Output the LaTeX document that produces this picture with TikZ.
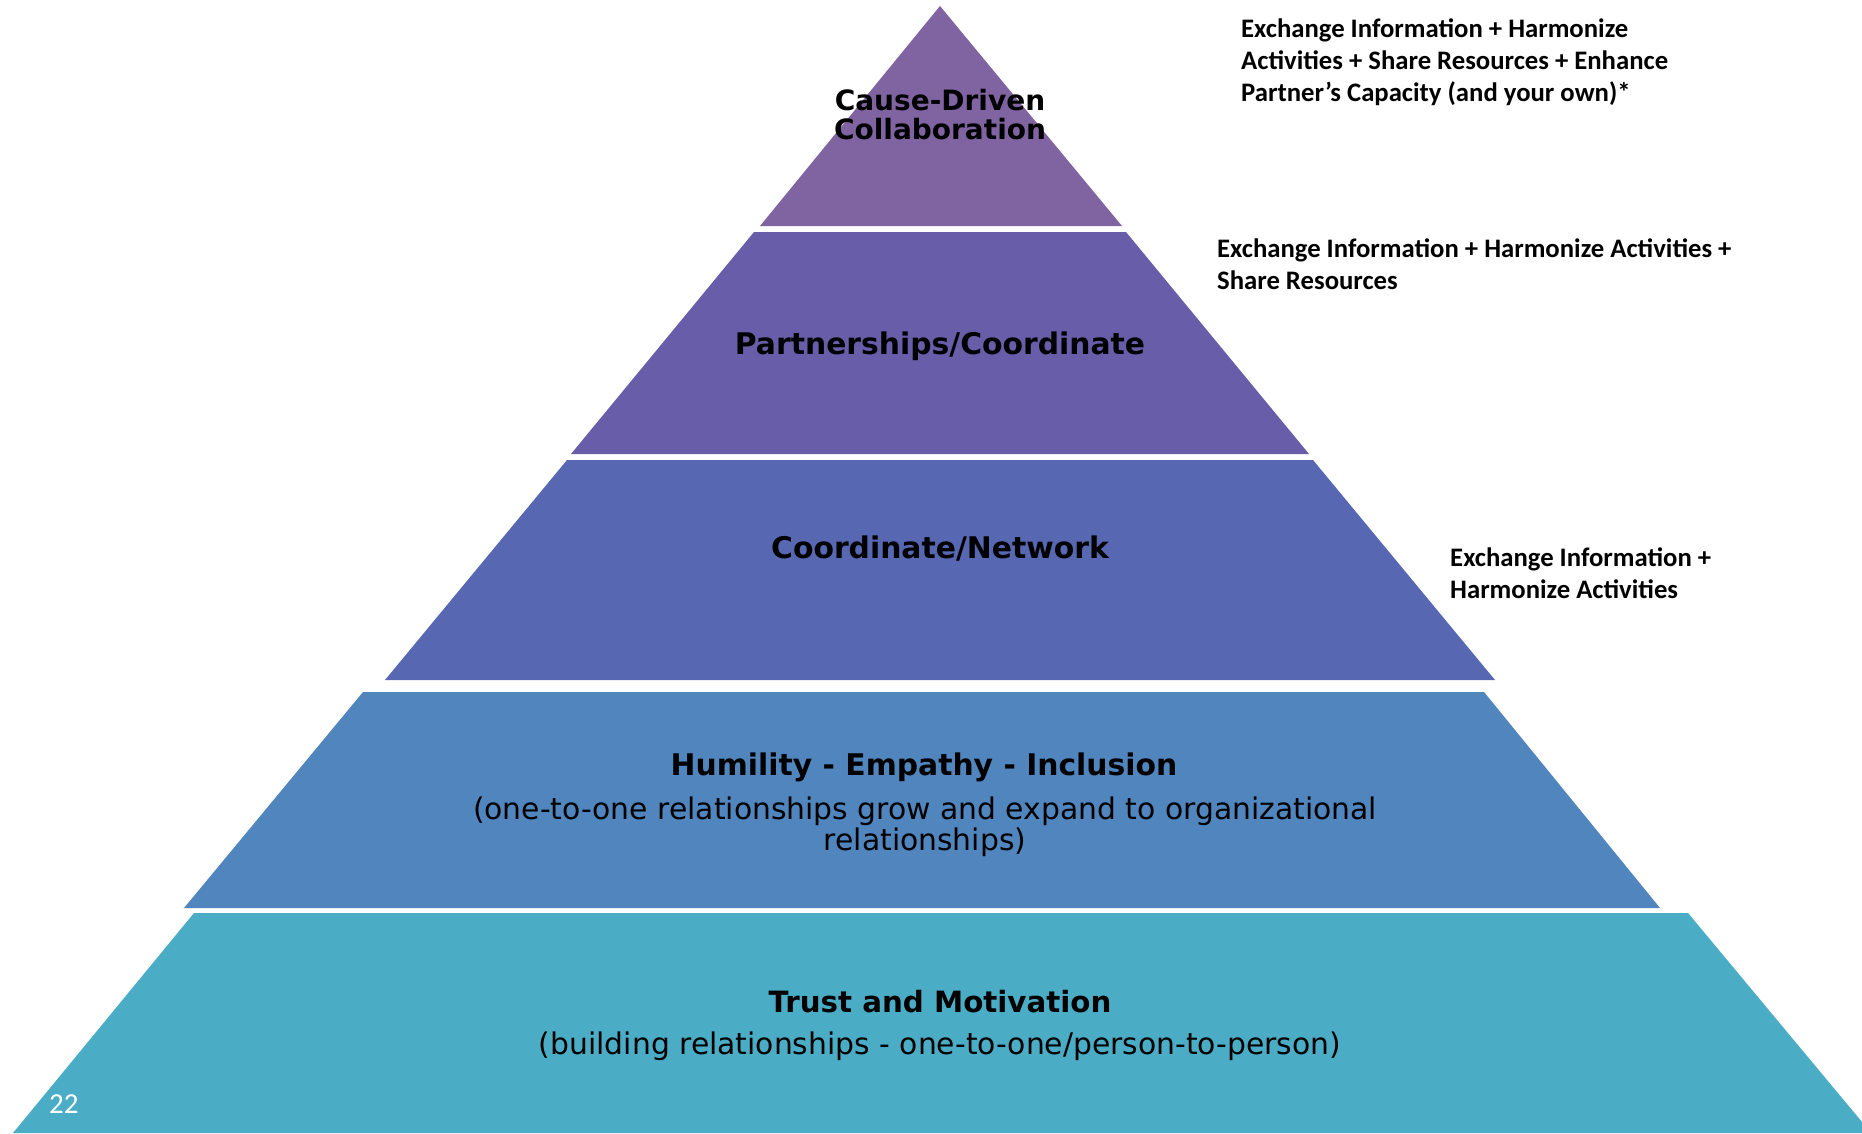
\documentclass[tikz,border=0pt]{standalone}
\usepackage{fontspec}
\setmainfont{DejaVu Sans}
\newfontfamily\calibfont{Carlito}

\definecolor{tierone}{HTML}{8064A2}
\definecolor{tiertwo}{HTML}{685DA9}
\definecolor{tierthree}{HTML}{5867B2}
\definecolor{tierfour}{HTML}{5085BD}
\definecolor{tierfive}{HTML}{4BACC6}

\begin{document}
\begin{tikzpicture}[x=1pt, y=-1pt,
    title/.style={font=\fontsize{29.8}{31}\selectfont\bfseries, anchor=base, inner sep=0pt},
    subtitle/.style={font=\fontsize{29.8}{31}\selectfont, anchor=base, inner sep=0pt},
    note/.style={font=\calibfont\fontsize{26.7}{32}\selectfont\bfseries, anchor=base west, inner sep=0pt}]
    % Page size
    \useasboundingbox[fill=white] (0,0) rectangle (1862,1133);

    % Pyramid tiers
    \fill[tierone] (940,6) -- (1122,226) -- (760,226) -- cycle;
    \fill[tiertwo] (754,232) -- (1126,232) -- (1309,454) -- (571,454) -- cycle;
    \fill[tierthree] (567,460) -- (1313,460) -- (1495,680) -- (385,680) -- cycle;
    \fill[tierfour] (363,692) -- (1484,692) -- (1660,908) -- (184,908) -- cycle;
    \fill[tierfive] (194,913) -- (1688,913) -- (1862,1122) -- (1862,1133) -- (13,1133) -- cycle;

    % Tier labels
    \node[title, font=\fontsize{28}{29}\selectfont\bfseries] (cause) at (940,110) {Cause-Driven};
    \node[title, font=\fontsize{28}{29}\selectfont\bfseries] (collab) at (940,139) {Collaboration};
    \node[title] (partner) at (940,354) {Partnerships/Coordinate};
    \node[title] (network) at (940,558) {Coordinate/Network};
    \node[title] (humility) at (924,775) {Humility - Empathy - Inclusion};
    \node[subtitle] (grow) at (925,819) {(one-to-one relationships grow and expand to organizational};
    \node[subtitle] (growtwo) at (925,850) {relationships)};
    \node[title, font=\fontsize{29.3}{31}\selectfont\bfseries] (trust) at (940,1012) {Trust and Motivation};
    \node[subtitle] (building) at (940,1054) {(building relationships - one-to-one/person-to-person)};

    % Notes on the right
    \node[note] (causenote) at (1241,37) {Exchange Information + Harmonize};
    \node[note] (causenotetwo) at (1241,69) {Activities + Share Resources + Enhance};
    \node[note] (causenotethree) at (1241,101) {Partner’s Capacity (and your own)*};
    \node[note] (partnernote) at (1217,257) {Exchange Information + Harmonize Activities +};
    \node[note] (partnernotetwo) at (1217,289) {Share Resources};
    \node[note] (networknote) at (1450,566) {Exchange Information +};
    \node[note] (networknotetwo) at (1450,598) {Harmonize Activities};

    % Slide number
    \node[anchor=base west, inner sep=0pt, text=white, font=\calibfont\fontsize{29}{31}\selectfont] (slidenum) at (49,1113) {22};
\end{tikzpicture}
\end{document}
